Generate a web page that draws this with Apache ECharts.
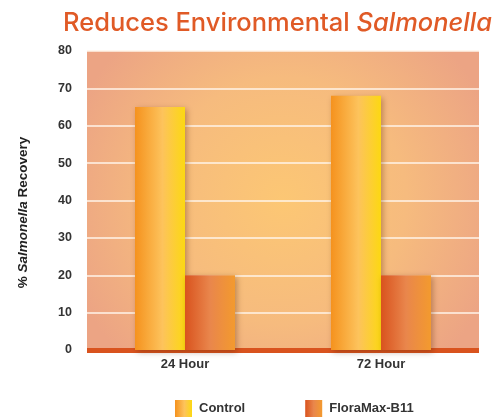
<!DOCTYPE html>
<html>
<head>
<meta charset="utf-8">
<script src="https://cdn.jsdelivr.net/npm/echarts@6/dist/echarts.min.js"></script>
<style>
  html, body { margin: 0; padding: 0; background: #fff; }
  #chart { width: 502px; height: 419px; }
</style>
</head>
<body>
<div id="chart"></div>
<script>
const categories = ['24 Hour', '72 Hour']
const controlValues = [65, 68]
const floraMaxValues = [20, 20]
const seriesNames = ['Control', 'FloraMax-B11']

const chart = echarts.init(document.getElementById('chart'))

const hGrad = (stops) => new echarts.graphic.LinearGradient(0, 0, 1, 0, stops)

const option = {
  animation: false,
  textStyle: {fontFamily: 'Liberation Sans, Arial, sans-serif'},
  title: {
    text: '{n|Reduces Environmental }{i|Salmonella}',
    left: 63,
    top: 10,
    padding: 0,
    textStyle: {
      fontWeight: 'normal',
      rich: {
        n: {fontSize: 25.5, color: '#e05a26', fontWeight: 500, fontFamily: 'Inter'},
        i: {fontSize: 25.5, color: '#e05a26', fontWeight: 500, fontStyle: 'italic', fontFamily: 'Inter'}
      }
    }
  },
  // plot area
  grid: {
    left: 87,
    right: 23,
    top: 51,
    bottom: 69,
    show: true,
    borderWidth: 0,
    backgroundColor: new echarts.graphic.RadialGradient(0.5, 0.5, 0.75, [
      {offset: 0, color: '#fcc774'},
      {offset: 0.55, color: '#f6bb7e'},
      {offset: 1, color: '#eca484'}
    ])
  },
  legend: {
    left: 175,
    top: 400,
    padding: 0,
    itemWidth: 17,
    itemHeight: 17,
    itemGap: 60,
    icon: 'rect',
    textStyle: {fontSize: 13, color: '#333', fontWeight: 'bold', padding: [0, 0, 0, 2]},
    data: seriesNames
  },
  xAxis: {
    type: 'category',
    data: categories,
    axisLine: {lineStyle: {color: '#d9531e', width: 5, cap: 'butt'}},
    axisTick: {show: false},
    axisLabel: {color: '#333', fontSize: 13, fontWeight: 'bold', margin: 8}
  },
  yAxis: {
    type: 'value',
    min: 0,
    max: 80,
    interval: 10,
    name: '{p|% }{i|Salmonella}{p| Recovery}',
    nameLocation: 'middle',
    nameGap: 57,
    nameRotate: 90,
    nameTextStyle: {
      padding: [0, 24, 0, 0],
      rich: {
        p: {fontSize: 13.5, fontWeight: 'bold', color: '#222'},
        i: {fontSize: 13.5, fontWeight: 'bold', fontStyle: 'italic', color: '#222'}
      }
    },
    axisLine: {show: false},
    axisTick: {show: false},
    axisLabel: {color: '#333', fontSize: 12.5, fontWeight: 'bold', margin: 15},
    splitLine: {lineStyle: {color: '#fff4ea', width: 1.5}}
  },
  series: [
    {
      name: seriesNames[0],
      type: 'bar',
      data: controlValues,
      barWidth: 50,
      barGap: '0%',
      itemStyle: {
        color: hGrad([
          {offset: 0, color: '#f5921e'},
          {offset: 0.55, color: '#fdc35c'},
          {offset: 1, color: '#fcd812'}
        ]),
        shadowColor: 'rgba(80, 30, 0, 0.35)',
        shadowBlur: 6,
        shadowOffsetX: 2,
        shadowOffsetY: 2
      }
    },
    {
      name: seriesNames[1],
      type: 'bar',
      data: floraMaxValues,
      barWidth: 50,
      itemStyle: {
        color: hGrad([
          {offset: 0, color: '#d9531e'},
          {offset: 0.5, color: '#e9864c'},
          {offset: 1, color: '#f39a2e'}
        ]),
        shadowColor: 'rgba(80, 30, 0, 0.35)',
        shadowBlur: 6,
        shadowOffsetX: 2,
        shadowOffsetY: 2
      }
    }
  ]
}

chart.setOption(option, true)
</script>
</body>
</html>
